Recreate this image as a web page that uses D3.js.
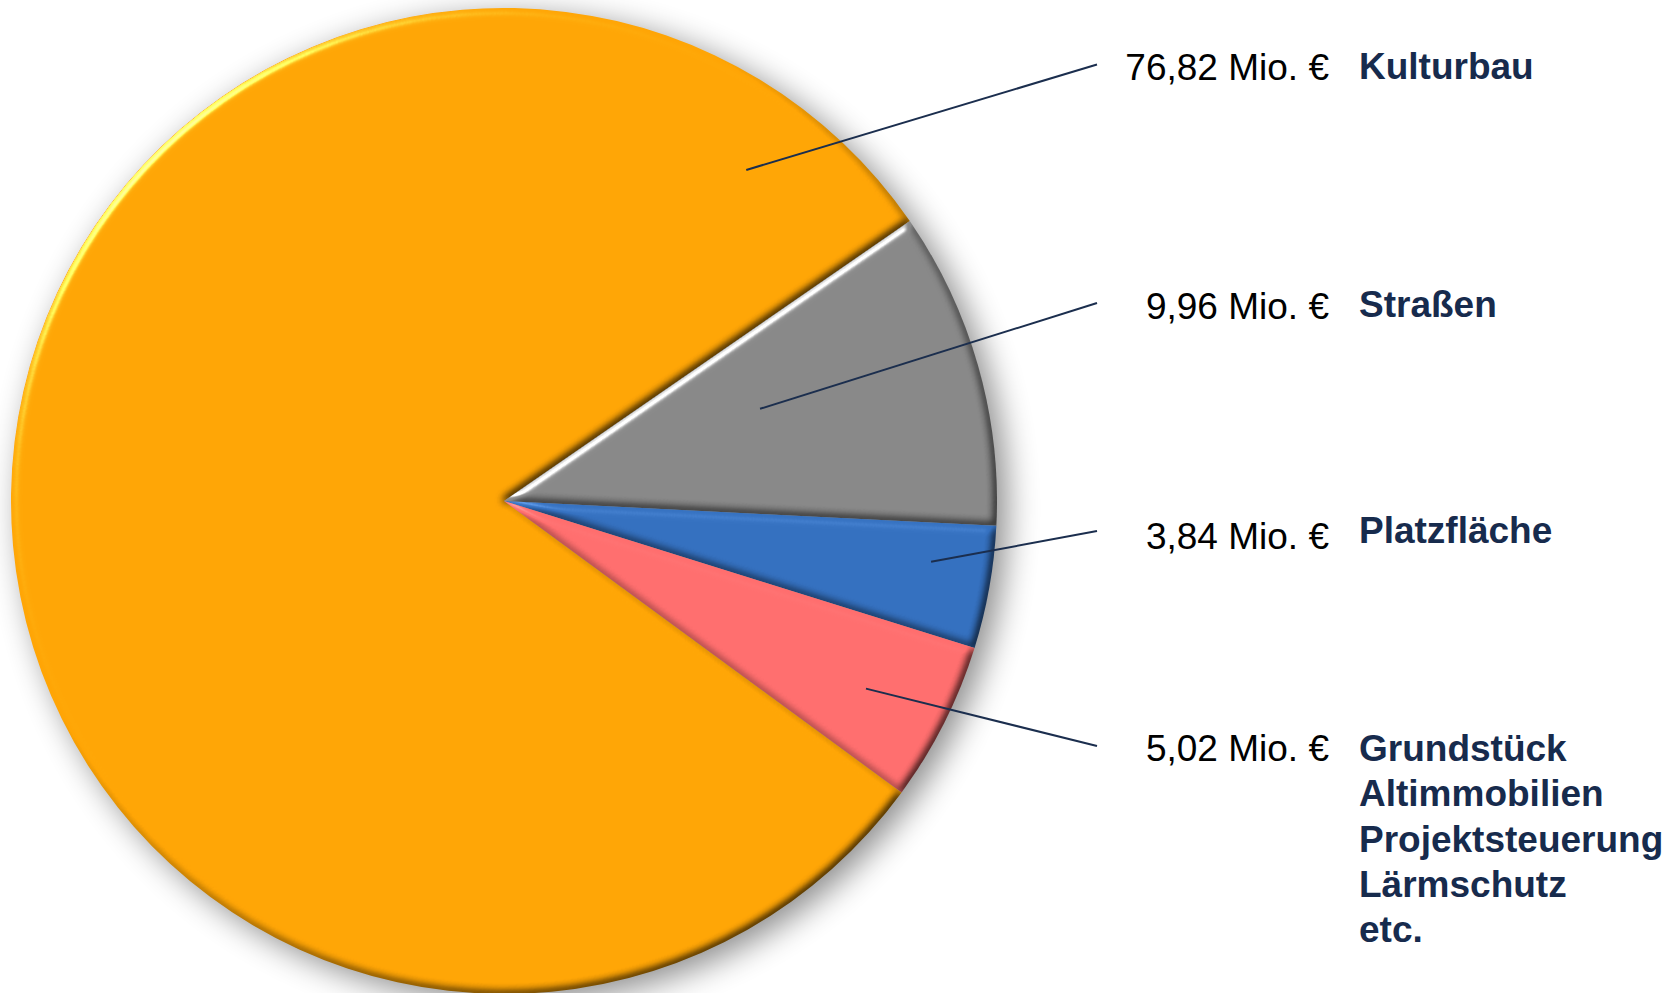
<!DOCTYPE html>
<html>
<head>
<meta charset="utf-8">
<script src="https://cdn.jsdelivr.net/npm/d3@7"></script>
<style>
  html, body { margin: 0; padding: 0; background: #fff; }
  svg { display: block; }
</style>
</head>
<body>
<script>
// ---- data ----
const categories = ["Kulturbau", "Straßen", "Platzfläche", "Grundstück"];
const values = [76.82, 9.96, 3.84, 5.02];
const valueLabels = ["76,82 Mio. €", "9,96 Mio. €", "3,84 Mio. €", "5,02 Mio. €"];
const categoryLines = [
  ["Kulturbau"],
  ["Straßen"],
  ["Platzfläche"],
  ["Grundstück", "Altimmobilien", "Projektsteuerung", "Lärmschutz", "etc."]
];
const colors = ["#FFA505", "#888888", "#3470BF", "#FF6E6E"];

// ---- layout ----
const W = 1678, H = 993;
const cx = 504, cy = 501, R = 493;
const startDeg = 126.24;
// leader inner anchor: [angle in deg (0 = up, clockwise), radius fraction]
const anchors = [[36.2, 0.832], [70.2, 0.552], [98.1, 0.875], [117.4, 0.827]];
const valueBaselines = [80, 319, 549, 761];
const catBaselines = [79, 317, 543, 761];
const valueRight = 1329, catLeft = 1359, leaderEndX = 1097;
const fontSize = 37, lineStep = 45.3;

const svg = d3.select("body").append("svg").attr("width", W).attr("height", H);
const defs = svg.append("defs");

// drop shadow
const sh = defs.append("filter").attr("id", "shadow")
  .attr("color-interpolation-filters", "sRGB")
  .attr("x", "-10%").attr("y", "-10%").attr("width", "125%").attr("height", "125%");
sh.append("feGaussianBlur").attr("in", "SourceAlpha").attr("stdDeviation", 16).attr("result", "b");
sh.append("feOffset").attr("in", "b").attr("dx", 10).attr("dy", 8).attr("result", "o");
sh.append("feComponentTransfer").attr("in", "o").attr("result", "os")
  .append("feFuncA").attr("type", "linear").attr("slope", 0.45);
const shm = sh.append("feMerge");
shm.append("feMergeNode").attr("in", "os");
shm.append("feMergeNode").attr("in", "SourceGraphic");

// bevel
const bv = defs.append("filter").attr("id", "bevel")
  .attr("color-interpolation-filters", "sRGB")
  .attr("x", "-5%").attr("y", "-5%").attr("width", "110%").attr("height", "110%");
bv.append("feGaussianBlur").attr("in", "SourceAlpha").attr("stdDeviation", 4).attr("result", "blur");
const dl = bv.append("feDiffuseLighting").attr("in", "blur").attr("surfaceScale", 3.5)
  .attr("diffuseConstant", 1 / Math.sin(50 * Math.PI / 180)).attr("lighting-color", "#ffffff").attr("result", "diff");
dl.append("feDistantLight").attr("azimuth", 225).attr("elevation", 50);
bv.append("feComposite").attr("in", "SourceGraphic").attr("in2", "diff")
  .attr("operator", "arithmetic").attr("k1", 1).attr("k2", 0).attr("k3", 0).attr("k4", 0).attr("result", "shaded");
const sp = bv.append("feSpecularLighting").attr("in", "blur").attr("surfaceScale", 4)
  .attr("specularConstant", 0.6).attr("specularExponent", 40).attr("lighting-color", "#ffffff").attr("result", "spec");
sp.append("feDistantLight").attr("azimuth", 225).attr("elevation", 35);
bv.append("feComposite").attr("in", "spec").attr("in2", "SourceAlpha").attr("operator", "in").attr("result", "specIn");
bv.append("feComposite").attr("in", "shaded").attr("in2", "specIn")
  .attr("operator", "arithmetic").attr("k1", 0).attr("k2", 1).attr("k3", 1).attr("k4", 0);

// ---- pie ----
const data = categories.map((c, i) => ({ cat: c, value: values[i], i }));
const s0 = startDeg * Math.PI / 180;
const pie = d3.pie().value(d => d.value).sort(null).startAngle(s0).endAngle(s0 + 2 * Math.PI);
const arc = d3.arc().innerRadius(0).outerRadius(R);
const arcs = pie(data);

const g = svg.append("g").attr("transform", `translate(${cx},${cy})`);
const pg = g.append("g").attr("filter", "url(#shadow)");
pg.selectAll("path").data(arcs).join("path")
  .attr("d", arc)
  .attr("fill", d => colors[d.data.i])
  .attr("filter", "url(#bevel)");

// ---- leaders ----
arcs.forEach(d => {
  const i = d.data.i;
  const a = anchors[i][0] * Math.PI / 180, r = anchors[i][1] * R;
  const x1 = cx + r * Math.sin(a), y1 = cy - r * Math.cos(a);
  const y2 = (valueBaselines[i] + catBaselines[i]) / 2 - 15;
  svg.append("line")
    .attr("x1", x1).attr("y1", y1).attr("x2", leaderEndX).attr("y2", y2)
    .attr("stroke", "#1B2E4E").attr("stroke-width", 2);
});

// ---- labels ----
data.forEach((d, i) => {
  svg.append("text")
    .attr("x", valueRight).attr("y", valueBaselines[i])
    .attr("text-anchor", "end")
    .attr("font-family", "Liberation Sans, Arial, sans-serif")
    .attr("font-size", fontSize).attr("fill", "#000")
    .text(valueLabels[i]);
  const t = svg.append("text")
    .attr("x", catLeft).attr("y", catBaselines[i])
    .attr("font-family", "Liberation Sans, Arial, sans-serif")
    .attr("font-size", fontSize).attr("font-weight", "bold").attr("fill", "#172B4D");
  categoryLines[i].forEach((line, k) => {
    t.append("tspan").attr("x", catLeft).attr("y", catBaselines[i] + k * lineStep).text(line);
  });
});
</script>
</body>
</html>
